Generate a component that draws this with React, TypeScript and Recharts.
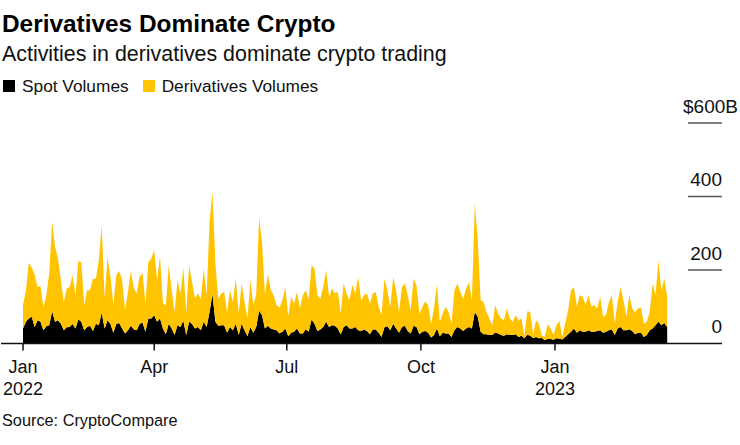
import React from 'react';
import { AreaChart, Area, XAxis, YAxis, Legend } from 'recharts';

// one reading every second day, starting 1 Jan 2022, in $B
const spotVolumes = [
  41, 59, 68, 73, 45, 63, 59, 36, 47, 50, 88, 59, 63, 54, 36, 44, 45, 53, 41, 65,
  59, 36, 45, 48, 34, 54, 50, 84, 41, 63, 53, 29, 53, 56, 41, 27, 36, 48, 39, 36,
  53, 57, 32, 68, 68, 77, 59, 68, 41, 25, 54, 41, 23, 50, 45, 62, 23, 59, 53, 41,
  45, 36, 59, 45, 86, 134, 59, 48, 50, 50, 29, 45, 36, 54, 23, 54, 36, 20, 45, 29,
  45, 89, 77, 41, 48, 41, 38, 36, 27, 32, 41, 20, 29, 32, 41, 27, 27, 39, 32, 65,
  54, 34, 38, 45, 59, 45, 50, 48, 41, 25, 45, 50, 41, 41, 45, 36, 34, 38, 34, 25,
  38, 38, 29, 18, 44, 47, 36, 54, 41, 29, 45, 48, 34, 27, 48, 45, 25, 32, 34, 29,
  16, 23, 41, 20, 29, 27, 27, 18, 36, 45, 41, 34, 41, 45, 41, 86, 73, 32, 25, 25,
  23, 23, 30, 27, 23, 21, 25, 23, 23, 25, 18, 21, 14, 24, 21, 15, 18, 14, 15, 9,
  13, 12, 10, 14, 13, 11, 18, 25, 32, 41, 29, 36, 32, 32, 36, 32, 32, 34, 36, 29,
  32, 36, 38, 23, 41, 45, 36, 36, 39, 34, 25, 29, 29, 18, 23, 36, 41, 50, 59, 50,
  56, 45,
];
const derivativesVolumes = [
  63, 86, 152, 134, 142, 91, 97, 63, 84, 141, 243, 204, 168, 118, 77, 106, 109, 133, 91, 159,
  163, 68, 100, 97, 142, 122, 177, 238, 82, 171, 129, 78, 133, 141, 132, 65, 104, 150, 113, 100,
  129, 135, 77, 154, 163, 177, 113, 170, 68, 79, 159, 104, 63, 122, 91, 145, 59, 154, 115, 82,
  91, 86, 143, 86, 245, 278, 159, 74, 86, 91, 57, 100, 77, 122, 59, 109, 77, 48, 127, 75,
  89, 254, 200, 91, 141, 104, 93, 68, 71, 86, 112, 55, 98, 77, 100, 68, 104, 106, 88, 148,
  150, 97, 84, 109, 141, 82, 100, 88, 100, 56, 118, 86, 77, 118, 91, 145, 83, 93, 102, 83,
  98, 102, 71, 59, 133, 98, 63, 127, 104, 57, 109, 115, 97, 63, 129, 113, 56, 68, 80, 75,
  38, 73, 121, 39, 53, 73, 59, 36, 109, 118, 100, 88, 109, 122, 77, 295, 209, 86, 88, 61,
  45, 27, 74, 54, 45, 43, 70, 45, 36, 52, 45, 47, 6, 64, 65, 10, 45, 39, 7, 9,
  40, 29, 13, 36, 49, 7, 36, 65, 113, 113, 71, 95, 95, 73, 95, 68, 73, 61, 91, 44,
  45, 77, 93, 32, 73, 109, 82, 36, 93, 61, 61, 66, 69, 36, 36, 50, 122, 82, 168, 95,
  121, 82,
];
const monthTicks = [0, 90, 181, 273, 365];
const monthLabels = ['Jan', 'Apr', 'Jul', 'Oct', 'Jan'];
const yearLabels = ['2022', '', '', '', '2023'];
const valueTicks = [0, 200, 400, 600];
const valueLabels = ['0', '200', '400', '$600B'];

const chartData = spotVolumes.map((spot, i) => ({
  day: i * 2,
  spot,
  derivatives: derivativesVolumes[i],
}));

const FONT = '"Liberation Sans", Arial, sans-serif';
const BLACK = '#000000';
const YELLOW = '#FFC300';

const MonthTick = ({ x, y, payload }: any) => {
  const i = monthTicks.indexOf(payload.value);
  return (
    <g>
      <text x={x} y={y + 20} textAnchor="middle" fontSize={18} fill="#111">{monthLabels[i]}</text>
      <text x={x} y={y + 42} textAnchor="middle" fontSize={18} fill="#111">{yearLabels[i]}</text>
    </g>
  );
};

const ValueTick = ({ y, payload }: any) => {
  const i = valueTicks.indexOf(payload.value);
  // the unit hangs past the right edge of the numbers
  const labelEnd = payload.value === 600 ? 738 : 722;
  return (
    <g>
      {payload.value !== 0 && <line x1={688} x2={722} y1={y} y2={y} stroke="#555" strokeWidth={1.5} />}
      <text x={labelEnd} y={y - 10.5} textAnchor="end" fontSize={19} fill="#111">{valueLabels[i]}</text>
    </g>
  );
};

const renderLegend = ({ payload }: any) => (
  <div style={{ display: 'flex', fontFamily: FONT, fontSize: 17.3, color: '#111', lineHeight: '20px' }}>
    {payload.map((entry: any) => (
      <div key={entry.value} style={{ display: 'flex', alignItems: 'center', marginRight: 14 }}>
        <span style={{ width: 12, height: 12, background: entry.color, marginRight: 7 }} />
        {entry.value}
      </div>
    ))}
  </div>
);

export default function App() {
  return (
    <div style={{ position: 'absolute', left: 0, top: 0, width: 740, height: 445, background: '#fff', fontFamily: FONT }}>
      <div style={{ position: 'absolute', left: 2, top: 10, fontSize: 24.4, fontWeight: 700, color: '#000', whiteSpace: 'nowrap' }}>
        Derivatives Dominate Crypto
      </div>
      <div style={{ position: 'absolute', left: 2, top: 42, fontSize: 21.4, color: '#111', whiteSpace: 'nowrap' }}>
        Activities in derivatives dominate crypto trading
      </div>
      <AreaChart
        width={740}
        height={445}
        data={chartData}
        margin={{ top: 123, right: 17, bottom: 21.5, left: 1 }}
        style={{ fontFamily: FONT }}
      >
        <XAxis
          dataKey="day"
          type="number"
          domain={[-15.1, 479.6]}
          ticks={monthTicks}
          tick={<MonthTick />}
          tickSize={7}
          height={60}
          interval={0}
          stroke="#111"
          strokeWidth={1.5}
        />
        <YAxis
          orientation="right"
          width={1}
          domain={[0, 600]}
          ticks={valueTicks}
          tick={<ValueTick />}
          axisLine={false}
          tickLine={false}
          interval={0}
        />
        <Legend
          content={renderLegend}
          itemSorter={null}
          wrapperStyle={{ position: 'absolute', left: 3, top: 76, width: 400 }}
        />
        <Area
          dataKey="spot"
          name="Spot Volumes"
          stackId="volumes"
          type="linear"
          fill={BLACK}
          fillOpacity={1}
          stroke="none"
          dot={false}
          activeDot={false}
          isAnimationActive={false}
        />
        <Area
          dataKey="derivatives"
          name="Derivatives Volumes"
          stackId="volumes"
          type="linear"
          fill={YELLOW}
          fillOpacity={1}
          stroke="none"
          dot={false}
          activeDot={false}
          isAnimationActive={false}
        />
      </AreaChart>
      <div style={{ position: 'absolute', left: 2, top: 411, fontSize: 16.3, color: '#111', whiteSpace: 'nowrap' }}>
        Source: CryptoCompare
      </div>
    </div>
  );
}
